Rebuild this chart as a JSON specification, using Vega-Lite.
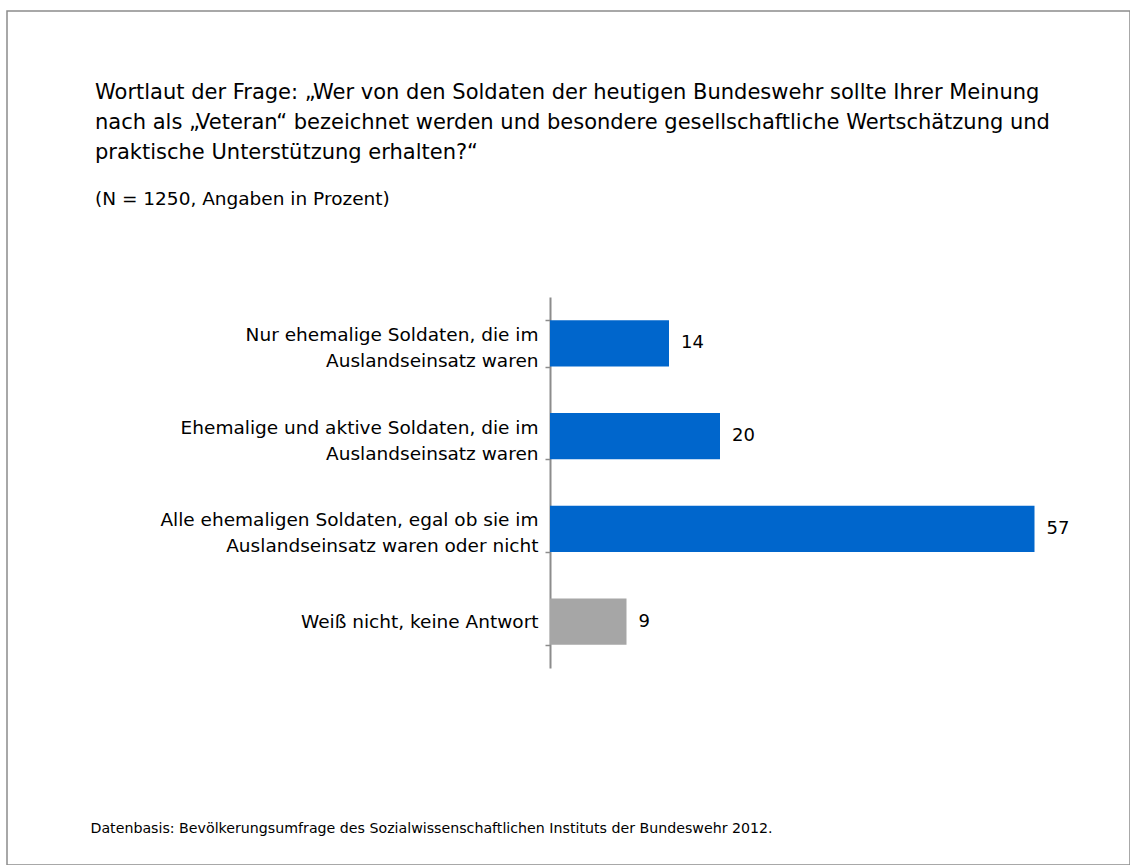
{
  "$schema": "https://vega.github.io/schema/vega-lite/v6.json",
  "autosize": "none",
  "padding": {"left": 7, "top": 11, "right": 0, "bottom": 0},
  "width": 1123,
  "height": 854,
  "background": "white",
  "config": {
    "font": "DejaVu Sans",
    "view": {"stroke": "#8c8c8c", "strokeWidth": 1.5}
  },
  "title": {
    "text": [
      "Wortlaut der Frage: „Wer von den Soldaten der heutigen Bundeswehr sollte Ihrer Meinung",
      "nach als „Veteran“ bezeichnet werden und besondere gesellschaftliche Wertschätzung und",
      "praktische Unterstützung erhalten?“"
    ],
    "subtitle": "(N = 1250, Angaben in Prozent)",
    "anchor": "start",
    "frame": "group",
    "dx": 88,
    "offset": -206,
    "fontSize": 21,
    "fontWeight": "normal",
    "color": "#000000",
    "lineHeight": 30,
    "subtitleFontSize": 18.5,
    "subtitleColor": "#000000",
    "subtitlePadding": 27
  },
  "data": {
    "values": [
      {"antwort": "Nur ehemalige Soldaten, die im|Auslandseinsatz waren", "prozent": 14, "typ": "Antwort"},
      {"antwort": "Ehemalige und aktive Soldaten, die im|Auslandseinsatz waren", "prozent": 20, "typ": "Antwort"},
      {"antwort": "Alle ehemaligen Soldaten, egal ob sie im|Auslandseinsatz waren oder nicht", "prozent": 57, "typ": "Antwort"},
      {"antwort": "Weiß nicht, keine Antwort", "prozent": 9, "typ": "keine Antwort"}
    ]
  },
  "encoding": {
    "y": {
      "field": "antwort",
      "type": "nominal",
      "sort": null,
      "scale": {"range": [286, 657], "paddingInner": 0.5, "paddingOuter": 0.25},
      "axis": {
        "orient": "left",
        "offset": -543,
        "title": null,
        "domainColor": "#8c8c8c",
        "domainWidth": 2,
        "tickColor": "#8c8c8c",
        "tickWidth": 1.5,
        "tickSize": 5,
        "tickBand": "extent",
        "labelFontSize": 18.5,
        "labelColor": "#000000",
        "labelPadding": 7,
        "labelLimit": 600,
        "labelLineHeight": 26,
        "labelOffset": {"condition": {"test": "indexof(datum.label, '|') >= 0", "value": -9}, "value": 0},
        "labelExpr": "split(datum.label, '|')"
      }
    },
    "x": {
      "field": "prozent",
      "type": "quantitative",
      "scale": {"domain": [0, 60], "range": [543, 1053]},
      "axis": {
        "orient": "top",
        "labels": false,
        "ticks": false,
        "domain": false,
        "grid": false,
        "title": "Datenbasis: Bevölkerungsumfrage des Sozialwissenschaftlichen Instituts der Bundeswehr 2012.",
        "titleX": 83,
        "titleY": 817,
        "titleAlign": "left",
        "titleAnchor": "start",
        "titleBaseline": "middle",
        "titleFontSize": 14.2,
        "titleFontWeight": "normal",
        "titleColor": "#000000"
      }
    }
  },
  "layer": [
    {
      "mark": {"type": "bar"},
      "encoding": {
        "color": {
          "field": "typ",
          "type": "nominal",
          "scale": {"domain": ["Antwort", "keine Antwort"], "range": ["#0066CC", "#A6A6A6"]},
          "legend": null
        }
      }
    },
    {
      "mark": {"type": "text", "align": "left", "baseline": "middle", "dx": 12, "fontSize": 18, "color": "#000000"},
      "encoding": {
        "text": {"field": "prozent", "type": "quantitative"}
      }
    }
  ]
}
